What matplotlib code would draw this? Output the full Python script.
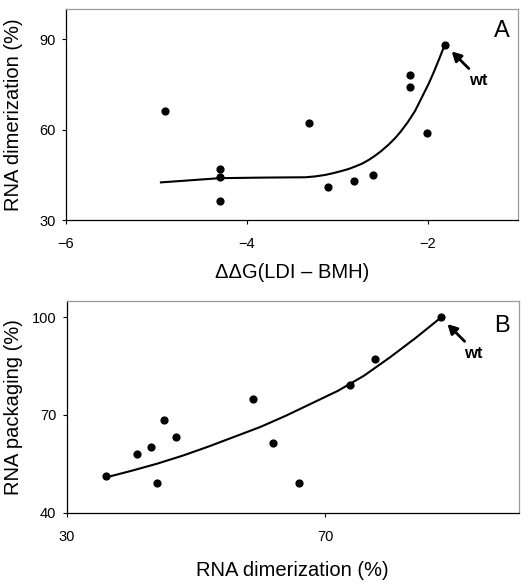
import matplotlib
matplotlib.use("Agg")
import matplotlib.pyplot as plt

plt.rcParams['font.family'] = ['Liberation Sans', 'DejaVu Sans']

# Panel A data
dg_x = [-4.91, -4.30, -4.30, -4.30, -3.31, -3.10, -2.81, -2.61, -2.20, -2.20, -2.01, -1.81]
dimer_a = [66.3, 47.1, 44.3, 36.2, 62.2, 41.0, 43.0, 45.0, 78.2, 74.2, 59.0, 88.3]
fit_a_x = [-4.95, -4.30, -3.80, -3.35, -3.24, -3.13, -3.04, -2.95, -2.87, -2.80,
           -2.72, -2.65, -2.58, -2.51, -2.43, -2.36, -2.30, -2.22, -2.14, -2.06,
           -1.99, -1.93, -1.87, -1.81]
fit_a_y = [42.5, 43.9, 44.1, 44.2, 44.5, 45.0, 45.6, 46.3, 47.0, 47.8,
           48.8, 50.0, 51.4, 53.0, 55.1, 57.2, 59.3, 62.5, 66.2, 71.0,
           75.2, 79.3, 83.7, 88.3]

# Panel B data
dimer_b = [36.1, 40.9, 43.0, 44.0, 45.0, 46.9, 58.9, 62.0, 66.0, 73.9, 77.8, 87.9]
packaging = [51.2, 58.1, 60.2, 49.2, 68.4, 63.2, 74.9, 61.3, 49.2, 79.2, 87.1, 100.0]
fit_b_x = [36.1, 40, 44, 48, 52, 56, 60, 64, 68, 72, 76, 80, 84, 88]
fit_b_y = [50.8, 52.8, 55.0, 57.5, 60.3, 63.3, 66.3, 69.8, 73.6, 77.4, 82.0, 87.6, 93.6, 100.0]

a_xticks = [-6, -4, -2]
a_yticks = [30, 60, 90]
b_xticks = [30, 70]
b_yticks = [40, 70, 100]

fig = plt.figure(figsize=(5.30, 5.87), dpi=100)
axA = fig.add_axes([0.1245, 0.6252, 0.853, 0.3589])
axB = fig.add_axes([0.1258, 0.1269, 0.853, 0.3603])


def style(ax):
    for s in ['top', 'right']:
        ax.spines[s].set_color('#9a9a9a')
        ax.spines[s].set_linewidth(0.9)
    for s in ['left', 'bottom']:
        ax.spines[s].set_color('black')
        ax.spines[s].set_linewidth(0.9)
    ax.tick_params(axis='both', direction='out', length=3, width=0.8, labelsize=10.5)
    ax.tick_params(axis='x', pad=9.5)
    ax.tick_params(axis='y', pad=4.5)


def wt_arrow(ax, x, y, label):
    ax.annotate('', xy=(x, y), xycoords='data',
                xytext=(24, -24), textcoords='offset pixels',
                arrowprops=dict(arrowstyle='-|>,head_length=0.55,head_width=0.3',
                                color='black', lw=2.0, shrinkA=0, shrinkB=7))
    ax.annotate(label, xy=(x, y), xycoords='data', xytext=(33, -36),
                textcoords='offset pixels', ha='center', va='center',
                fontsize=12, fontweight='bold')


# Panel A
axA.plot(fit_a_x, fit_a_y, color='black', lw=1.5, zorder=2)
axA.scatter(dg_x, dimer_a, s=24, color='black', zorder=3)
axA.set_xlim(-6, -1)
axA.set_ylim(30, 100)
axA.set_xticks(a_xticks)
axA.set_yticks(a_yticks)
style(axA)
axA.set_xlabel('ΔΔG(LDI – BMH)', fontsize=14.5)
axA.xaxis.set_label_coords(0.5, -0.2515)
axA.xaxis.label.set_va('center')
axA.set_ylabel('RNA dimerization (%)', fontsize=14.5)
axA.yaxis.set_label_coords(-0.116, 0.5)
axA.yaxis.label.set_va('center')
axA.text(0.965, 0.895, 'A', transform=axA.transAxes, fontsize=17,
         ha='center', va='center')
wt_arrow(axA, dg_x[-1], dimer_a[-1], 'wt')

# Panel B
axB.plot(fit_b_x, fit_b_y, color='black', lw=1.5, zorder=2)
axB.scatter(dimer_b, packaging, s=24, color='black', zorder=3)
axB.set_xlim(30, 100)
axB.set_ylim(40, 105)
axB.set_xticks(b_xticks)
axB.set_yticks(b_yticks)
style(axB)
axB.set_xlabel('RNA dimerization (%)', fontsize=14.5)
axB.xaxis.set_label_coords(0.5, -0.272)
axB.xaxis.label.set_va('center')
axB.set_ylabel('RNA packaging (%)', fontsize=14.5)
axB.yaxis.set_label_coords(-0.118, 0.5)
axB.yaxis.label.set_va('center')
axB.text(0.963, 0.88, 'B', transform=axB.transAxes, fontsize=17,
         ha='center', va='center')
wt_arrow(axB, dimer_b[-1], packaging[-1], 'wt')

fig.savefig('out.png', dpi=100)
